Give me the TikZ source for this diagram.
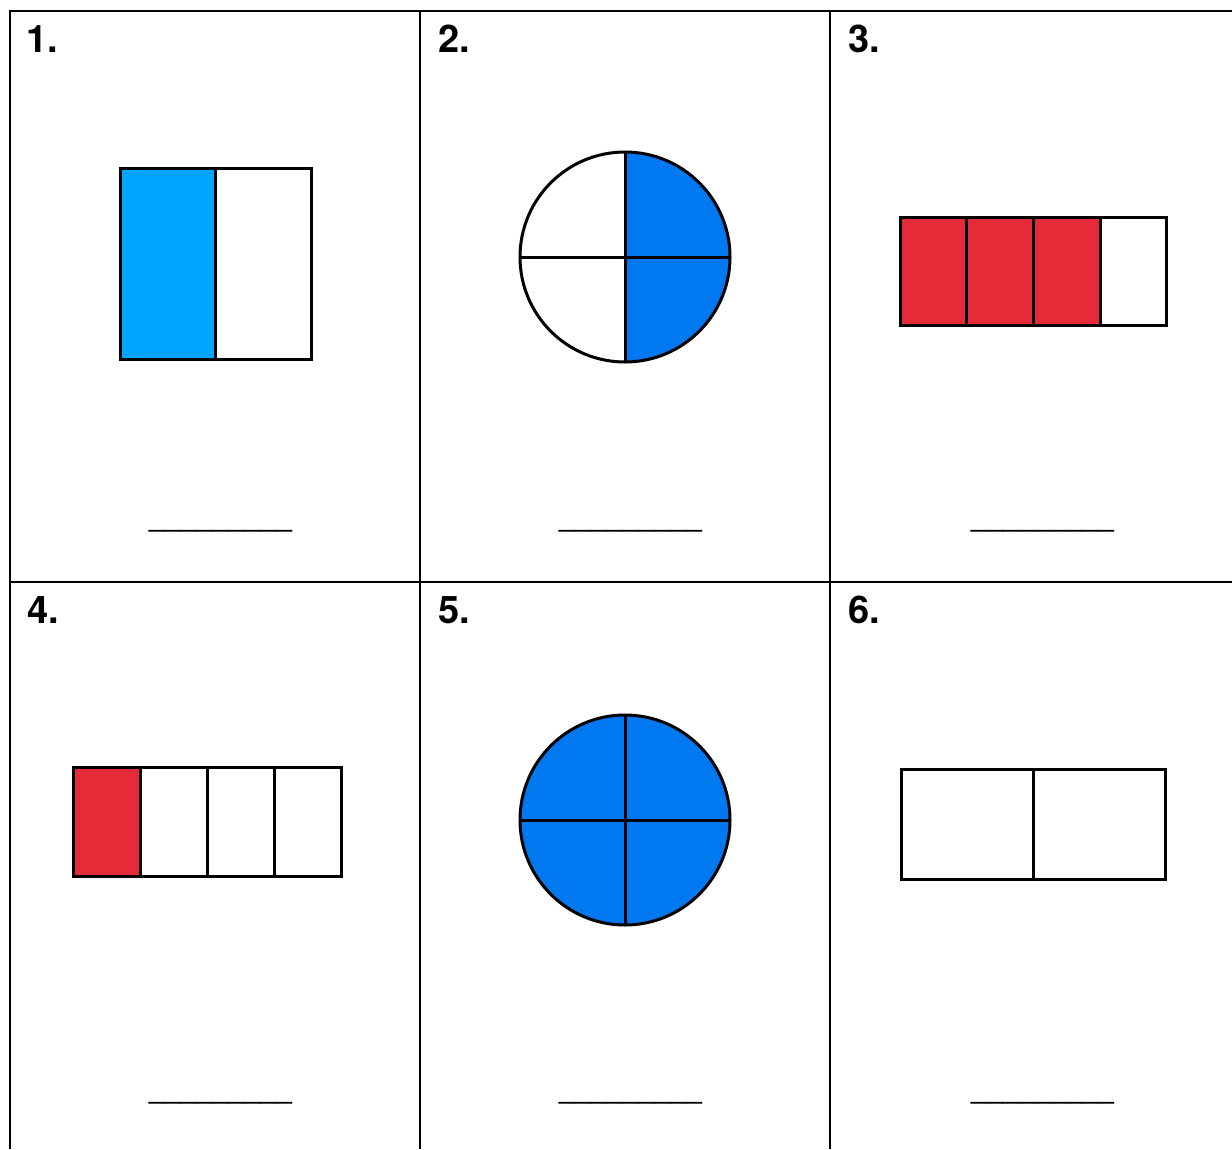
\documentclass[tikz,border=0pt]{standalone}
\usepackage{fontspec}
\newfontfamily\numfont{TeX Gyre Heros}
\newfontfamily\blankfont{Liberation Sans}
\definecolor{cyanfill}{HTML}{00A5FF}
\definecolor{bluefill}{HTML}{0078F0}
\definecolor{redfill}{HTML}{E52A38}
\begin{document}
\begin{tikzpicture}[x=1pt,y=-1pt,
  gridline/.style={line width=2.5pt,black},
  shapeline/.style={line width=3pt,black},
  numlabel/.style={anchor=base west,inner sep=0pt,font=\numfont\bfseries\fontsize{38}{38}\selectfont},
  blank/.style={anchor=base,inner sep=0pt,font=\blankfont\fontsize{28.6}{28.6}\selectfont}]
\useasboundingbox (0,0) rectangle (1232,1149);
% grid
\draw[gridline] (10,1149) -- (10,11) -- (1232,11);
\draw[gridline] (10,582) -- (1232,582);
\draw[gridline] (420,11) -- (420,1149);
\draw[gridline] (830,11) -- (830,1149);
% numbers
\node[numlabel] (n1) at (26,52) {1.};
\node[numlabel] (n2) at (438,52) {2.};
\node[numlabel] (n3) at (848,52) {3.};
\node[numlabel] (n4) at (27,623) {4.};
\node[numlabel] (n5) at (438,623) {5.};
\node[numlabel] (n6) at (848,623) {6.};
% blanks
\node[blank] (b1) at (220.5,526) {\_\_\_\_\_\_\_\_\_};
\node[blank] (b2) at (630.5,526) {\_\_\_\_\_\_\_\_\_};
\node[blank] (b3) at (1042.5,526) {\_\_\_\_\_\_\_\_\_};
\node[blank] (b4) at (220.5,1098) {\_\_\_\_\_\_\_\_\_};
\node[blank] (b5) at (630.5,1098) {\_\_\_\_\_\_\_\_\_};
\node[blank] (b6) at (1042.5,1098) {\_\_\_\_\_\_\_\_\_};
% panel 1
\fill[cyanfill] (120,168) rectangle (215,359);
\draw[shapeline] (120,168) rectangle (311,359);
\draw[shapeline] (215,168) -- (215,359);
% panel 2
\fill[bluefill] (625,152) arc[start angle=-90,end angle=90,radius=105] -- cycle;
\draw[shapeline] (625,257) circle[radius=105];
\draw[shapeline] (625,152) -- (625,362);
\draw[shapeline] (520,257) -- (730,257);
% panel 3
\fill[redfill] (900,217) rectangle (1100,325);
\draw[shapeline] (900,217) rectangle (1166,325);
\foreach \xx in {966,1033,1100} \draw[shapeline] (\xx,217) -- (\xx,325);
% panel 4
\fill[redfill] (73,767) rectangle (140,876);
\draw[shapeline] (73,767) rectangle (341,876);
\foreach \xx in {140,207,274} \draw[shapeline] (\xx,767) -- (\xx,876);
% panel 5
\fill[bluefill] (625,820) circle[radius=105];
\draw[shapeline] (625,820) circle[radius=105];
\draw[shapeline] (625,715) -- (625,925);
\draw[shapeline] (520,820) -- (730,820);
% panel 6
\draw[shapeline] (901,769) rectangle (1165,879);
\draw[shapeline] (1033,769) -- (1033,879);
\end{tikzpicture}
\end{document}
